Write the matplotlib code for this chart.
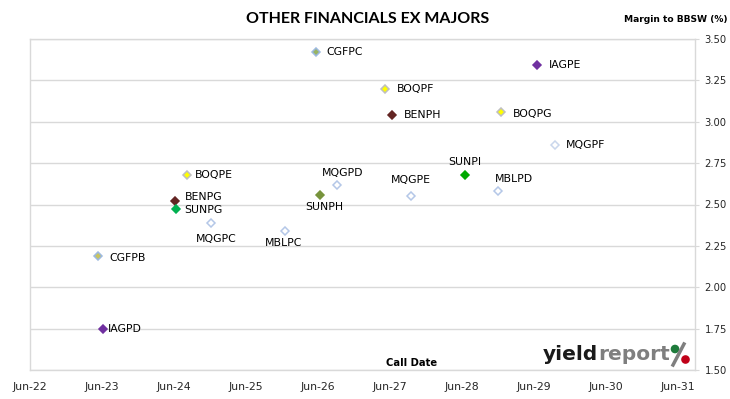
import matplotlib
matplotlib.use("Agg")
import matplotlib.pyplot as plt
import matplotlib.dates as mdates
from matplotlib.patches import Circle
from matplotlib.lines import Line2D
import numpy as np

# securities, call dates and margins
securities = ["CGFPB", "IAGPD", "BENPG", "SUNPG", "BOQPE", "MQGPC", "MBLPC", "CGFPC", "SUNPH",
              "MQGPD", "BOQPF", "BENPH", "MQGPE", "SUNPI", "MBLPD", "BOQPG", "IAGPE", "MQGPF"]
call_dates = ["2023-05-12", "2023-06-06", "2024-06-06", "2024-06-13", "2024-08-06", "2024-12-07",
              "2025-12-18", "2026-05-22", "2026-06-11", "2026-09-08", "2027-05-08", "2027-06-14",
              "2027-09-18", "2028-06-14", "2028-12-03", "2028-12-16", "2029-06-17", "2029-09-14"]
margins = [2.19, 1.75, 2.52, 2.47, 2.68, 2.39, 2.34, 3.42, 2.56,
           2.62, 3.20, 3.04, 2.55, 2.68, 2.58, 3.06, 3.34, 2.86]
tick_years = [2022, 2023, 2024, 2025, 2026, 2027, 2028, 2029, 2030, 2031]
y_ticks = [1.50, 1.75, 2.00, 2.25, 2.50, 2.75, 3.00, 3.25, 3.50]

# marker colours per issuer (fill, edge)
farben = {
    "CGFPB": ("#C8C460", "#9DB9E0"), "CGFPC": ("#98B462", "#9DB9E0"),
    "IAGPD": ("#7030A0", "#7030A0"), "IAGPE": ("#7030A0", "#7030A0"),
    "BENPG": ("#632523", "#632523"), "BENPH": ("#632523", "#632523"),
    "SUNPG": ("#00B050", "#00B050"), "SUNPH": ("#77933C", "#77933C"), "SUNPI": ("#00A800", "#00A800"),
    "BOQPE": ("#FFFF00", "#BFBFBF"), "BOQPF": ("#FFFF00", "#BFBFBF"), "BOQPG": ("#FFFF00", "#BFBFBF"),
    "MQGPC": ("white", "#B4C7E7"), "MQGPD": ("white", "#B4C7E7"), "MQGPE": ("white", "#B4C7E7"),
    "MQGPF": ("white", "#C9D6EC"), "MBLPC": ("white", "#B4C7E7"), "MBLPD": ("white", "#B4C7E7"),
}
# label placement: (dx, dy in pixels, horizontal alignment)
lage = {
    "CGFPB": (12, -2, "left"), "IAGPD": (5, 0, "left"), "BENPG": (10, 4, "left"),
    "SUNPG": (8, -1, "left"), "BOQPE": (8, 0, "left"), "MQGPC": (5, -16, "center"),
    "MBLPC": (-2, -12, "center"), "CGFPC": (11, 0, "left"), "SUNPH": (5, -12, "center"),
    "MQGPD": (5, 12, "center"), "BOQPF": (12, 0, "left"), "BENPH": (12, 0, "left"),
    "MQGPE": (0, 16, "center"), "SUNPI": (0, 13, "center"), "MBLPD": (15, 12, "center"),
    "BOQPG": (12, -2, "left"), "IAGPE": (12, 0, "left"), "MQGPF": (11, 0, "left"),
}

W, H = 730, 399
fig = plt.figure(figsize=(W / 100, H / 100), dpi=100)
ax = fig.add_axes([29.5 / W, 1 - 370 / H, (695 - 29.5) / W, (370 - 39) / H])

x = mdates.datestr2num(call_dates)
for name, xi, yi in zip(securities, x, margins):
    fc, ec = farben[name]
    ax.plot(xi, yi, marker="D", ms=4.2, mfc=fc, mec=ec, mew=1.1, ls="none", zorder=3)
    dx, dy, ha = lage[name]
    ax.annotate(name, (xi, yi), xytext=(dx, dy), textcoords="offset pixels",
                ha=ha, va="center", fontsize=7.8, color="black")

ax.set_xlim(mdates.datestr2num("2022-06-01"), mdates.datestr2num("2031-08-26"))
ax.set_ylim(1.5, 3.5)
xt = [mdates.datestr2num(f"{j}-06-01") for j in tick_years]
ax.set_xticks(xt)
ax.set_xticklabels([f"Jun-{j % 100}" for j in tick_years])
ax.set_yticks(y_ticks)
ax.set_yticklabels([f"{v:.2f}" for v in y_ticks])
ax.yaxis.tick_right()
ax.tick_params(axis="y", length=3, color="#D9D9D9", pad=4, labelsize=7.2, labelcolor="#262626")
ax.tick_params(axis="x", length=0, pad=9, labelsize=7.8, labelcolor="#262626")
ax.grid(axis="y", color="#D9D9D9", lw=1)
ax.set_axisbelow(True)
for s in ax.spines.values():
    s.set_color("#D9D9D9")
    s.set_linewidth(1)

fig.text(368 / W, 1 - 19 / H, "OTHER FINANCIALS EX MAJORS", ha="center", va="center",
         fontsize=11.5, fontweight="bold", family="Lato")
fig.text(727 / W, 1 - 19 / H, "Margin to BBSW (%)", ha="right", va="center",
         fontsize=6.6, fontweight="bold")
fig.text(411.5 / W, 1 - 363 / H, "Call Date", ha="center", va="center",
         fontsize=7.2, fontweight="bold")

# yieldreport logo
t1 = fig.text(543 / W, 1 - 360 / H, "yield", ha="left", va="baseline",
              fontsize=14.5, fontweight="bold", color="#1A1A1A")
fig.canvas.draw()
bb = t1.get_window_extent()
t2 = fig.text(bb.x1 / W, 1 - 360 / H, "report", ha="left", va="baseline",
              fontsize=14.5, fontweight="bold", color="#7F7F7F")
fig.add_artist(Line2D([673 / W, 684 / W], [1 - 365 / H, 1 - 344 / H], color="#7F7F7F",
                      lw=2.5, transform=fig.transFigure))
fig.add_artist(Circle((675, H - 349), 3.6, color="#1E7B3B", transform=None))
fig.add_artist(Circle((685.5, H - 359.5), 3.6, color="#C00018", transform=None))

fig.savefig("out.png", dpi=100)
